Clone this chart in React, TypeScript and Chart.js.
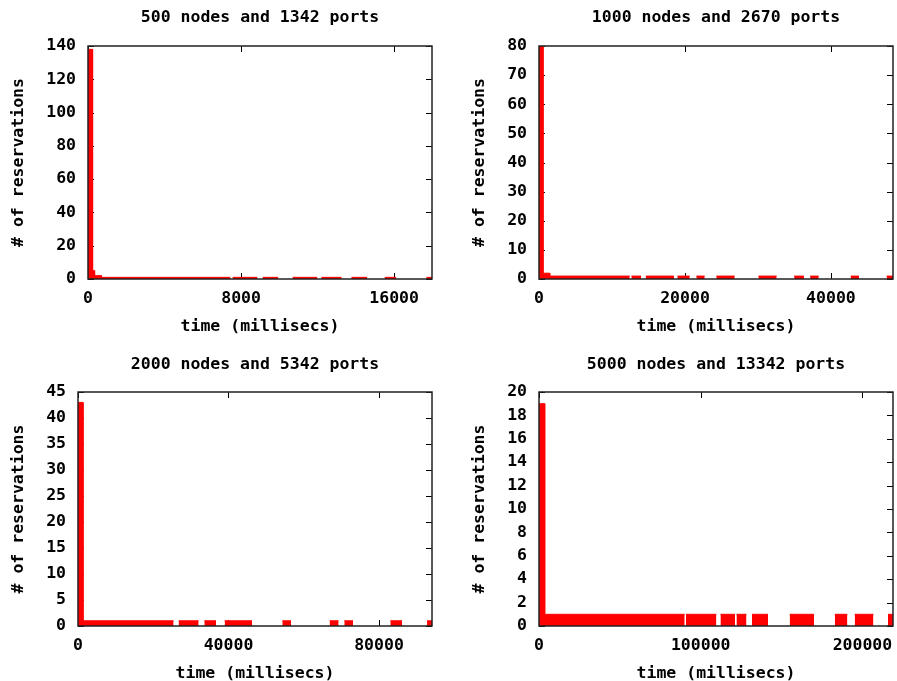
import React, { useEffect, useRef } from "react";
import { Chart, registerables } from "chart.js";

Chart.register(...registerables);

// ---------- data ----------
const panelTitles = [
  "500 nodes and 1342 ports",
  "1000 nodes and 2670 ports",
  "2000 nodes and 5342 ports",
  "5000 nodes and 13342 ports",
];
const xAxisTitle = "time (millisecs)";
const yAxisTitle = "# of reservations";

// each box: [start time, end time] in ms, with a reservation count
const p1Start = [0, 240, 345, 700, 7560, 9130, 10700, 12200, 13770, 15510, 17690];
const p1End = [240, 345, 700, 7440, 8850, 9940, 11980, 13250, 14590, 16110, 17980];
const p1Count = [138, 5, 2, 1, 1, 1, 1, 1, 1, 1, 1];

const p2Start = [0, 550, 1470, 12660, 14620, 18960, 21560, 24300, 30060, 34960, 37150, 42700, 47630];
const p2End = [550, 1470, 12430, 14000, 18500, 20650, 22700, 26810, 32560, 36300, 38320, 43840, 48500];
const p2Count = [80, 2, 1, 1, 1, 1, 1, 1, 1, 1, 1, 1, 1];

const p3Start = [0, 1330, 26740, 33570, 38970, 54300, 66880, 70780, 83010, 92770];
const p3End = [1330, 25410, 32060, 36680, 46250, 56620, 69270, 73100, 86120, 94090];
const p3Count = [43, 1, 1, 1, 1, 1, 1, 1, 1, 1];

const p4Start = [0, 3520, 90900, 112200, 122100, 131700, 155000, 182900, 195200, 215800];
const p4End = [3520, 90100, 109700, 121200, 128300, 141600, 170100, 190700, 206800, 218900];
const p4Count = [19, 1, 1, 1, 1, 1, 1, 1, 1, 1];

// axis ranges and tick labels
const xMaxes = [17980, 48500, 94090, 218900];
const xTicks1 = [0, 8000, 16000];
const xTicks2 = [0, 20000, 40000];
const xTicks3 = [0, 40000, 80000];
const xTicks4 = [0, 100000, 200000];
const yTicks1 = [0, 20, 40, 60, 80, 100, 120, 140];
const yTicks2 = [0, 10, 20, 30, 40, 50, 60, 70, 80];
const yTicks3 = [0, 5, 10, 15, 20, 25, 30, 35, 40, 45];
const yTicks4 = [0, 2, 4, 6, 8, 10, 12, 14, 16, 18, 20];

const panelData = [
  [p1Start, p1End, p1Count],
  [p2Start, p2End, p2Count],
  [p3Start, p3End, p3Count],
  [p4Start, p4End, p4Count],
];
const panelXTicks = [xTicks1, xTicks2, xTicks3, xTicks4];
const panelYTicks = [yTicks1, yTicks2, yTicks3, yTicks4];

// ---------- layout (local canvas coordinates) ----------
const FONT_SIZE = 16.5;
const LINE_H = FONT_SIZE * 1.2;
const layouts = [
  { left: 0, top: 0, width: 448, height: 340, cl: 88, cr: 432, ct: 46, cb: 279, titleY: 17.5, yTitleX: 18.3, xTickY: 299, xTitleY: 326.7 },
  { left: 448, top: 0, width: 449, height: 340, cl: 91, cr: 445, ct: 46, cb: 279, titleY: 17.5, yTitleX: 32, xTickY: 299, xTitleY: 326.7 },
  { left: 0, top: 340, width: 448, height: 345, cl: 78, cr: 432, ct: 52, cb: 286, titleY: 24.5, yTitleX: 18.3, xTickY: 305.7, xTitleY: 333.7 },
  { left: 448, top: 340, width: 449, height: 345, cl: 91, cr: 445, ct: 52, cb: 286, titleY: 24.5, yTitleX: 32, xTickY: 305.7, xTitleY: 333.7 },
];

function buildPoints(starts: number[], ends: number[], counts: number[]) {
  const pts: { x: number; y: number | null }[] = [];
  starts.forEach((s, i) => {
    if (i > 0 && s !== ends[i - 1]) pts.push({ x: ends[i - 1], y: null });
    pts.push({ x: s, y: counts[i] }, { x: ends[i], y: counts[i] });
  });
  return pts;
}

const TICK_LEN = 6;
const framePlugin = {
  id: "gnuFrame",
  beforeDatasetsDraw(chart: any) {
    const { ctx, chartArea: a, scales } = chart;
    const x = scales.x;
    const y = scales.y;
    ctx.save();
    ctx.strokeStyle = "#000";
    ctx.lineWidth = 1;
    ctx.beginPath();
    for (const t of y.ticks) {
      const py = Math.round(y.getPixelForValue(t.value)) + 0.5;
      ctx.moveTo(a.left, py);
      ctx.lineTo(a.left + TICK_LEN, py);
      ctx.moveTo(a.right, py);
      ctx.lineTo(a.right - TICK_LEN, py);
    }
    for (const t of x.ticks) {
      const px = Math.round(x.getPixelForValue(t.value)) + 0.5;
      ctx.moveTo(px, a.bottom);
      ctx.lineTo(px, a.bottom - TICK_LEN);
      ctx.moveTo(px, a.top);
      ctx.lineTo(px, a.top + TICK_LEN);
    }
    ctx.stroke();
    ctx.restore();
  },
  afterDatasetsDraw(chart: any) {
    const { ctx, chartArea: a } = chart;
    ctx.save();
    ctx.strokeStyle = "#222";
    ctx.lineWidth = 1.5;
    ctx.strokeRect(a.left, a.top, a.right - a.left, a.bottom - a.top);
    ctx.restore();
  },
};

const font = { family: "'DejaVu Sans Mono', monospace", size: FONT_SIZE, weight: "bold" as const };

function Panel({ index }: { index: number }) {
  const ref = useRef<HTMLCanvasElement | null>(null);
  const L = layouts[index];
  useEffect(() => {
    if (!ref.current) return;
    const [s, e, c] = panelData[index];
    const xt = panelXTicks[index];
    const yt = panelYTicks[index];
    const titlePadTop = L.titleY - LINE_H / 2;
    const chart = new Chart(ref.current, {
      type: "line",
      data: {
        datasets: [
          {
            data: buildPoints(s, e, c) as any,
            borderColor: "#ff0000",
            backgroundColor: "#ff0000",
            borderWidth: 1,
            pointRadius: 0,
            fill: "origin",
            tension: 0,
            spanGaps: false,
          },
        ],
      },
      options: {
        animation: false,
        responsive: false,
        devicePixelRatio: 1,
        layout: { padding: { left: 0, top: 0, bottom: 0, right: L.width - L.cr } },
        plugins: {
          legend: { display: false },
          tooltip: { enabled: false },
          title: {
            display: true,
            text: panelTitles[index],
            fullSize: false,
            color: "#000",
            font,
            padding: { top: titlePadTop, bottom: L.ct - titlePadTop - LINE_H },
          },
        },
        scales: {
          x: {
            type: "linear",
            min: 0,
            max: xMaxes[index],
            grid: { display: false, drawTicks: false },
            border: { display: false },
            afterBuildTicks: (sc: any) => {
              sc.ticks = xt.map((v) => ({ value: v }));
            },
            ticks: {
              autoSkip: false,
              maxRotation: 0,
              color: "#000",
              font,
              padding: L.xTickY - L.cb - LINE_H / 2,
              callback: (v: any) => String(v),
            },
            title: {
              display: true,
              text: xAxisTitle,
              color: "#000",
              font,
              padding: { top: 0, bottom: L.height - L.xTitleY - LINE_H / 2 },
            },
            afterFit: (sc: any) => {
              sc.height = L.height - L.cb;
              sc.paddingLeft = 0;
              sc.paddingRight = 0;
            },
          },
          y: {
            type: "linear",
            min: 0,
            max: yt[yt.length - 1],
            grid: { display: false, drawTicks: false },
            border: { display: false },
            afterBuildTicks: (sc: any) => {
              sc.ticks = yt.map((v) => ({ value: v }));
            },
            ticks: {
              autoSkip: false,
              color: "#000",
              font,
              padding: 12,
              callback: (v: any) => String(v),
            },
            title: {
              display: true,
              text: yAxisTitle,
              color: "#000",
              font,
              padding: { top: L.yTitleX - LINE_H / 2, bottom: 0 },
            },
            afterFit: (sc: any) => {
              sc.width = L.cl;
              sc.paddingTop = 0;
              sc.paddingBottom = 0;
            },
          },
        },
      },
      plugins: [framePlugin],
    });
    return () => chart.destroy();
  }, [index]);
  return (
    <canvas
      ref={ref}
      width={L.width}
      height={L.height}
      style={{ position: "absolute", left: L.left, top: L.top, width: L.width, height: L.height }}
    />
  );
}

export default function App() {
  return (
    <div
      style={{
        position: "absolute",
        left: 0,
        top: 0,
        width: 897,
        height: 681,
        overflow: "hidden",
        background: "#fff",
      }}
    >
      {[0, 1, 2, 3].map((i) => (
        <Panel key={i} index={i} />
      ))}
    </div>
  );
}
